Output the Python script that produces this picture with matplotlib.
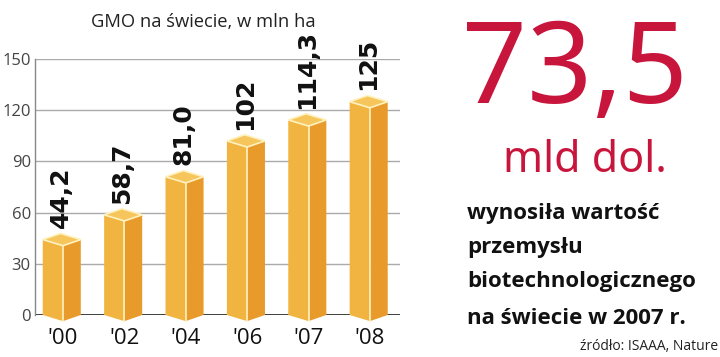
import matplotlib
matplotlib.use("Agg")
import matplotlib.pyplot as plt
from matplotlib.patches import Polygon

years = ["'00", "'02", "'04", "'06", "'07", "'08"]
area = [44.2, 58.7, 81.0, 102, 114.3, 125]
area_labels = ["44,2", "58,7", "81,0", "102", "114,3", "125"]
yticks = [0, 30, 60, 90, 120, 150]

front_c = "#F2B440"
side_c = "#E89A2A"
top_c = "#F6C65C"
edge_c = "#FFF2C0"

fig = plt.figure(figsize=(7.2, 3.57), dpi=100)
ax = fig.add_axes([35 / 720, 42 / 357, 365 / 720, 256 / 357])

wf = 0.33   # front face width
ws = 0.29   # side face width
dy = 3.6    # perspective drop

for i, v in enumerate(area):
    x = i
    front = [(x - wf, 0), (x, -dy), (x, v - dy), (x - wf, v)]
    side = [(x, -dy), (x + ws, 0), (x + ws, v), (x, v - dy)]
    top = [(x - wf, v), (x, v - dy), (x + ws, v), (x + ws - wf, v + dy)]
    ax.add_patch(Polygon(front, closed=True, fc=front_c, ec="none", zorder=3, clip_on=False))
    ax.add_patch(Polygon(side, closed=True, fc=side_c, ec="none", zorder=3, clip_on=False))
    ax.add_patch(Polygon(top, closed=True, fc=top_c, ec=edge_c, lw=1.2, zorder=4, clip_on=False))
    ax.plot([x, x], [-dy, v - dy], color=edge_c, lw=1.2, zorder=4, clip_on=False)
    ax.text(x - 0.03, v + dy + 3, area_labels[i], rotation=90, ha="center", va="bottom",
            fontsize=18, fontweight="bold", family="DejaVu Sans",
            color="#111111", zorder=5)

ax.set_xlim(-0.456, 5.49)
ax.set_ylim(0, 150)
ax.set_yticks(yticks)
ax.set_yticklabels([str(t) for t in yticks], fontsize=12, color="#444444", family="Open Sans")
ax.set_xticks(range(len(years)))
ax.set_xticklabels(years, fontsize=16, color="#111111", family="Open Sans")
ax.tick_params(axis="both", length=0, pad=3)
ax.tick_params(axis="x", pad=9)
ax.grid(axis="y", color="#aaaaaa", lw=1, zorder=0)
ax.axhline(0, color="#111111", lw=2, zorder=1)
for s in ["top", "right", "bottom"]:
    ax.spines[s].set_visible(False)
ax.spines["left"].set_color("#888888")
ax.spines["left"].set_linewidth(1)

fig.text(203 / 720, 1 - 22 / 357, "GMO na świecie, w mln ha", ha="center", va="center",
         fontsize=13.2, family="Open Sans", color="#222222")

red = "#C8153C"
fig.text(575 / 720, 1 - 74 / 357, "73,5", ha="center", va="center", fontsize=82,
         family="Noto Sans", color=red)
fig.text(585 / 720, 1 - 161 / 357, "mld dol.", ha="center", va="center", fontsize=31,
         family="Noto Sans", color=red)
lines = ["wynosiła wartość", "przemysłu", "biotechnologicznego", "na świecie w 2007 r."]
ys = [213, 248, 282, 318]
for t, yy in zip(lines, ys):
    fig.text(467 / 720, 1 - yy / 357, t, ha="left", va="center", fontsize=16,
             fontweight="bold", family="Open Sans", color="#111111")
fig.text(718 / 720, 1 - 346 / 357, "źródło: ISAAA, Nature", ha="right", va="center",
         fontsize=10, family="Open Sans", color="#222222")

fig.savefig("out.png", dpi=100)
